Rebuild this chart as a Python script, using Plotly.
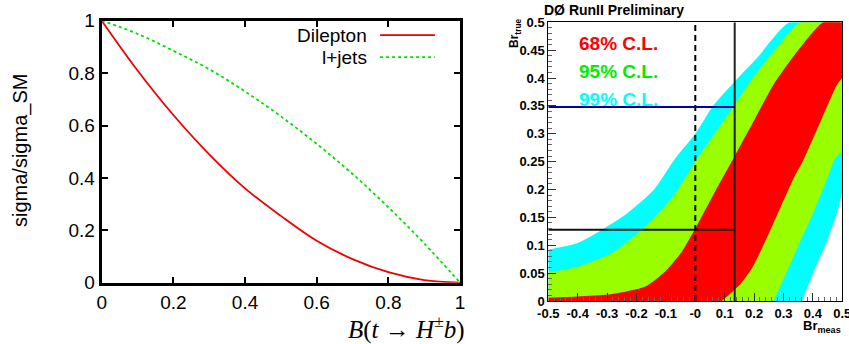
import plotly.graph_objects as go

# ---------------- Left panel data ----------------
B_vals = [0.0, 0.1, 0.2, 0.3, 0.4, 0.5, 0.6, 0.7, 0.8, 0.9, 1.0]
dilepton = [1.0, 0.81, 0.64, 0.49, 0.36, 0.255, 0.16, 0.09, 0.04, 0.01, 0.0]
ljets = [1.0, 0.95, 0.885, 0.815, 0.73, 0.635, 0.53, 0.415, 0.288, 0.15, 0.0]
left_ticks = [0, 0.2, 0.4, 0.6, 0.8, 1]
left_ticktext = ["0", "0.2", "0.4", "0.6", "0.8", "1"]

# ---------------- Right panel data (band boundaries) ----------------
# b1: white / cyan (upper 99%)
b1_x = [-0.5, -0.4, -0.317, -0.23, -0.14, -0.068, 0.0, 0.06, 0.134, 0.21, 0.32, 0.5]
b1_y = [0.092, 0.104, 0.128, 0.158, 0.2, 0.256, 0.30, 0.35, 0.394, 0.436, 0.5, 0.5]
# b2: cyan / green (upper 95%)
b2_x = [-0.5, -0.397, -0.283, -0.181, -0.079, 0.0, 0.079, 0.13, 0.187, 0.266, 0.357, 0.5]
b2_y = [0.051, 0.062, 0.086, 0.128, 0.185, 0.25, 0.31, 0.349, 0.394, 0.447, 0.5, 0.5]
# b3: green / red (upper 68%)
b3_x = [-0.5, -0.4, -0.283, -0.17, -0.102, -0.045, 0.0, 0.068, 0.13, 0.204, 0.266, 0.346, 0.435, 0.5]
b3_y = [0.006, 0.008, 0.0125, 0.026, 0.053, 0.089, 0.13, 0.197, 0.256, 0.328, 0.388, 0.447, 0.5, 0.5]
# b4: red / green (lower 68%)
b4_x = [0.09, 0.153, 0.193, 0.238, 0.289, 0.340, 0.365, 0.431, 0.482, 0.5]
b4_y = [0.0, 0.03, 0.059, 0.107, 0.167, 0.226, 0.25, 0.328, 0.388, 0.40]
# b5: green / cyan (lower 95%)
b5_x = [0.266, 0.317, 0.357, 0.408, 0.453, 0.476, 0.5]
b5_y = [0.0, 0.059, 0.107, 0.167, 0.226, 0.256, 0.268]
# b6: cyan / white (lower 99%)
b6_x = [0.363, 0.408, 0.448, 0.487, 0.5]
b6_y = [0.0, 0.059, 0.107, 0.167, 0.197]

meas_value = 0.134
true_lower = 0.128
true_upper = 0.348

cl_labels = ["68% C.L.", "95% C.L.", "99% C.L."]
x_ticks_r = [-0.5, -0.4, -0.3, -0.2, -0.1, 0.0, 0.1, 0.2, 0.3, 0.4, 0.5]
x_ticktext_r = ["-0.5", "-0.4", "-0.3", "-0.2", "-0.1", "-0", "0.1", "0.2", "0.3", "0.4", "0.5"]
y_ticks_r = [0, 0.05, 0.1, 0.15, 0.2, 0.25, 0.3, 0.35, 0.4, 0.45, 0.5]
y_ticktext_r = ["0", "0.05", "0.1", "0.15", "0.2", "0.25", "0.3", "0.35", "0.4", "0.45", "0.5"]

W, H = 849, 344
SANS = "Liberation Sans, Arial, Helvetica, sans-serif"
SERIF = "Liberation Serif, DejaVu Serif, serif"

RED = "#ff0000"
GREEN_BAND = "#99ff00"
CYAN = "#00ffff"

fig = go.Figure()

# ---- left panel curves
fig.add_trace(go.Scatter(x=B_vals, y=dilepton, mode="lines", line=dict(color="#ee0000", width=1.8, shape="spline"),
                         xaxis="x", yaxis="y", showlegend=False))
fig.add_trace(go.Scatter(x=B_vals, y=ljets, mode="lines", line=dict(color="#00e000", width=1.8, dash="dot", shape="spline"),
                         xaxis="x", yaxis="y", showlegend=False))

# ---- right panel bands (layered fills)
for bx, by, col in [(b1_x, b1_y, CYAN), (b2_x, b2_y, GREEN_BAND), (b3_x, b3_y, RED),
                    (b4_x, b4_y, GREEN_BAND), (b5_x, b5_y, CYAN), (b6_x, b6_y, "#ffffff")]:
    fig.add_trace(go.Scatter(x=bx, y=by, mode="lines", fill="tozeroy", fillcolor=col,
                             line=dict(width=0, shape="spline", smoothing=0.6, color=col),
                             xaxis="x2", yaxis="y2", showlegend=False, hoverinfo="skip"))

# ---- right panel lines
fig.add_trace(go.Scatter(x=[0, 0], y=[0, 0.5], mode="lines", line=dict(color="black", width=2, dash="6px,4px"),
                         xaxis="x2", yaxis="y2", showlegend=False))
fig.add_trace(go.Scatter(x=[meas_value, meas_value], y=[0, 0.5], mode="lines", line=dict(color="#222222", width=2),
                         xaxis="x2", yaxis="y2", showlegend=False))
fig.add_trace(go.Scatter(x=[-0.5, meas_value], y=[true_upper, true_upper], mode="lines", line=dict(color="#0000aa", width=2),
                         xaxis="x2", yaxis="y2", showlegend=False))
fig.add_trace(go.Scatter(x=[-0.5, meas_value], y=[true_lower, true_lower], mode="lines", line=dict(color="#111111", width=2),
                         xaxis="x2", yaxis="y2", showlegend=False))

# domains (pixel-based)
lx0, lx1, ly_top, ly_bot = 101.7, 460.0, 20.7, 282.7
rx0, rx1, ry_top, ry_bot = 548.3, 842.3, 22.3, 301.0

def dx(a, b):
    return [a / W, b / W]

def dy(top, bot):
    return [(H - bot) / H, (H - top) / H]

left_axis_common = dict(showline=True, linecolor="black", linewidth=3, mirror="ticks", ticks="inside",
                        ticklen=6, tickwidth=2, tickcolor="black", showgrid=False, zeroline=False,
                        ticklabeloverflow="allow",
                        tickfont=dict(family=SANS, size=19, color="black"))

fig.update_layout(
    width=W, height=H, autosize=False,
    margin=dict(l=0, r=0, t=0, b=0, pad=0),
    paper_bgcolor="white", plot_bgcolor="white",
    xaxis=dict(domain=dx(lx0, lx1), range=[0, 1], tickvals=left_ticks, ticktext=left_ticktext,
               anchor="y", automargin=False, **left_axis_common),
    yaxis=dict(domain=dy(ly_top, ly_bot), range=[0, 1], tickvals=left_ticks, ticktext=left_ticktext,
               anchor="x", automargin=False, **left_axis_common),
    xaxis2=dict(domain=dx(rx0, rx1), range=[-0.5, 0.5], anchor="y2", automargin=False,
                tickvals=x_ticks_r, ticktext=x_ticktext_r, ticklabeloverflow="allow",
                showline=True, linecolor="black", linewidth=1, mirror=True,
                ticks="inside", ticklen=8, tickwidth=1, tickcolor="#333333",
                minor=dict(ticks="inside", ticklen=4, dtick=0.02, tick0=0, tickcolor="#666666", tickwidth=1),
                showgrid=False, zeroline=False,
                tickfont=dict(family=SANS, size=13, color="black", weight="bold")),
    yaxis2=dict(domain=dy(ry_top, ry_bot), range=[0, 0.5], anchor="x2", automargin=False,
                tickvals=y_ticks_r, ticktext=y_ticktext_r, ticklabeloverflow="allow",
                showline=True, linecolor="black", linewidth=1, mirror=True,
                ticks="inside", ticklen=8, tickwidth=1, tickcolor="#333333",
                minor=dict(ticks="inside", ticklen=4, dtick=0.01, tick0=0, tickcolor="#666666", tickwidth=1),
                showgrid=False, zeroline=False,
                tickfont=dict(family=SANS, size=13, color="black", weight="bold")),
)

# legend of left panel
leg_y = [0.945, 0.861]
fig.add_annotation(x=0.745, y=leg_y[0], xref="x", yref="y", text="Dilepton", showarrow=False,
                   xanchor="right", yanchor="middle", font=dict(family=SANS, size=19, color="black"))
fig.add_annotation(x=0.745, y=leg_y[1], xref="x", yref="y", text="l+jets", showarrow=False,
                   xanchor="right", yanchor="middle", font=dict(family=SANS, size=19, color="black"))
fig.add_shape(type="line", xref="x", yref="y", x0=0.777, x1=0.93, y0=leg_y[0], y1=leg_y[0],
              line=dict(color="#ee0000", width=1.8))
fig.add_shape(type="line", xref="x", yref="y", x0=0.777, x1=0.93, y0=leg_y[1], y1=leg_y[1],
              line=dict(color="#00e000", width=1.8, dash="dot"))

# left axis titles
fig.add_annotation(x=20 / W, y=(H - 151) / H, xref="paper", yref="paper", text="sigma/sigma_SM",
                   textangle=-90, showarrow=False, xanchor="center", yanchor="middle",
                   font=dict(family=SANS, size=20, color="black"))
fig.add_annotation(x=467 / W, y=(H - 327) / H, xref="paper", yref="paper",
                   text="<i>B</i>(<i>t</i>\u00a0\u2192\u00a0<i>H</i><sup>±</sup><i>b</i>)",
                   showarrow=False, xanchor="right", yanchor="middle",
                   font=dict(family=SERIF, size=25, color="black"))

# right panel texts
fig.add_annotation(x=542 / W, y=(H - 9.5) / H, xref="paper", yref="paper", text="DØ RunII Preliminary",
                   showarrow=False, xanchor="left", yanchor="middle",
                   font=dict(family=SANS, size=14, color="black", weight="bold"))
fig.add_annotation(x=515 / W, y=(H - 33) / H, xref="paper", yref="paper", text="Br<sub>true</sub>",
                   textangle=-90, showarrow=False, xanchor="center", yanchor="middle",
                   font=dict(family=SANS, size=12, color="black", weight="bold"))
fig.add_annotation(x=843 / W, y=(H - 326) / H, xref="paper", yref="paper", text="Br<sub>meas</sub>",
                   showarrow=False, xanchor="right", yanchor="middle",
                   font=dict(family=SANS, size=13, color="black", weight="bold"))

cl_colors = ["#ff0000", "#00ee00", "#00ffff"]
cl_ypix = [43, 71.3, 99.7]
for lab, col, yp in zip(cl_labels, cl_colors, cl_ypix):
    fig.add_annotation(x=577 / W, y=(H - yp) / H, xref="paper", yref="paper", text=lab,
                       showarrow=False, xanchor="left", yanchor="middle",
                       font=dict(family=SANS, size=19, color=col, weight="bold"))

post = ("document.documentElement.style.margin='0';document.body.style.margin='0';"
        "document.body.style.padding='0';document.body.style.overflow='hidden';"
        "var gd=document.getElementById('{plot_id}');"
        "Plotly.relayout(gd,{width:849,height:344});")
fig.write_html("out.html", post_script=post, config={"responsive": False})
